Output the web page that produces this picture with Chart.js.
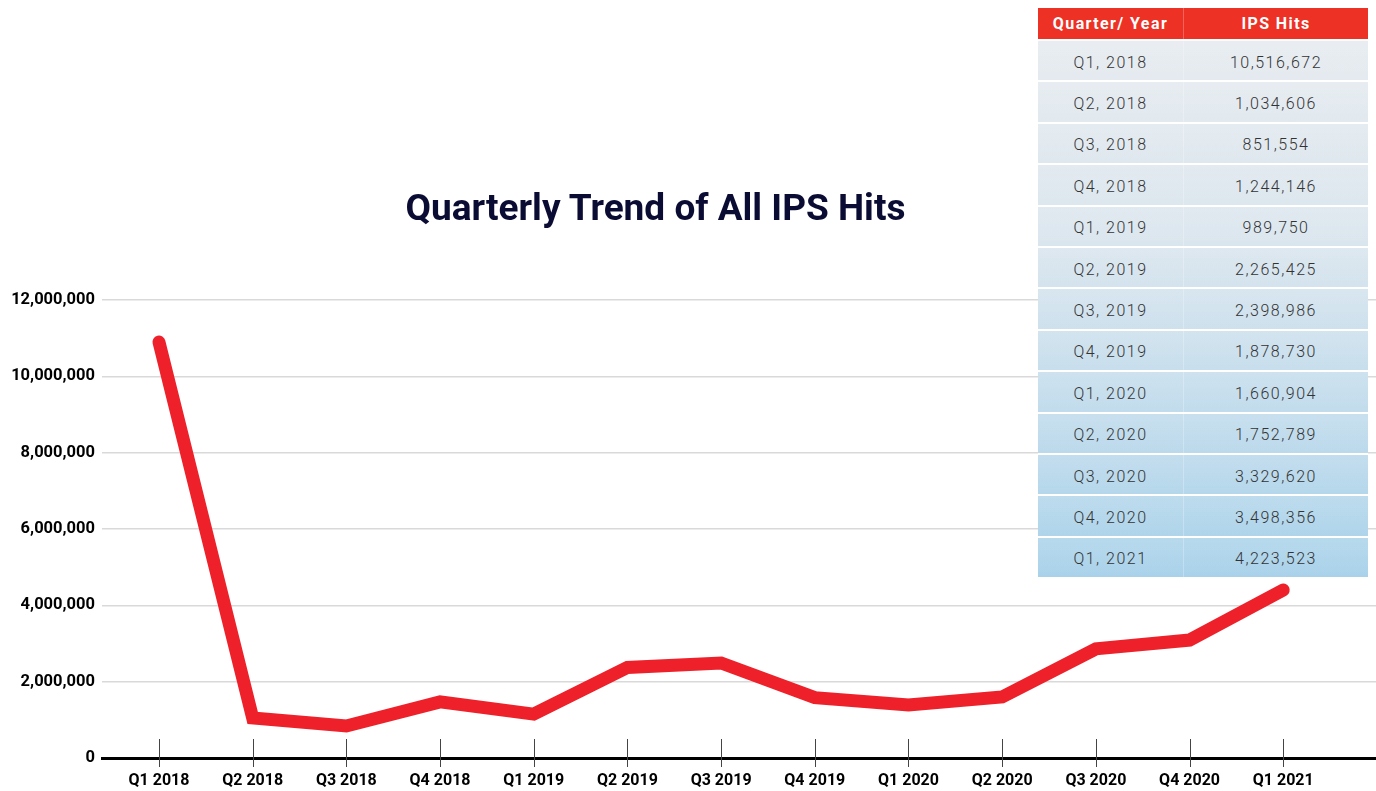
<!DOCTYPE html>
<html lang="en">
<head>
    <meta charset="UTF-8">
    <title>Quarterly Trend of All IPS Hits</title>
    <script src="https://cdn.jsdelivr.net/npm/chart.js"></script>
    <style>
        body { margin: 0; background: #fff; font-family: Roboto, Arial, sans-serif; }
        #wrap { position: relative; width: 1376px; height: 791px; overflow: hidden; }
        #trendChart { position: absolute; left: 0; top: 0; }
        .chart-title {
            position: absolute; left: 0; top: 189px; width: 1311px;
            text-align: center; font-size: 37px; line-height: 37px; font-weight: 700;
            color: #0b0c33;
        }
        .hits-table {
            position: absolute; left: 1038px; top: 8px; width: 330px;
            background: linear-gradient(#e8ecf0, #dbe6ee 40%, #a9d2ea);
        }
        .hits-table .head {
            display: flex; height: 31px; background: #ee3125; color: #fff;
            font-weight: 700; font-size: 16px; letter-spacing: 1.4px;
        }
        .hits-table .row {
            display: flex; height: 39.4px; border-top: 2px solid #fff;
            color: #333; font-size: 16px; font-weight: 300; letter-spacing: 1.5px;
            background: linear-gradient(rgba(255,255,255,0.12), rgba(255,255,255,0));
        }
        .hits-table .row:first-of-type { border-top: 1px solid #fff; }
        .hits-table .c1, .hits-table .c2 { display: flex; align-items: center; justify-content: center; }
        .hits-table .row .c1, .hits-table .row .c2 { padding-top: 3px; }
        .hits-table .c1 { width: 145px; border-right: 1px solid rgba(255,255,255,0.25); }
        .hits-table .c2 { width: 184px; }
    </style>
</head>
<body>
<div id="wrap">
    <canvas id="trendChart" width="1376" height="791"></canvas>
    <div class="chart-title">Quarterly Trend of All IPS Hits</div>
    <div class="hits-table" id="hitsTable"></div>
</div>

<script>
// x axis quarters
const quarters = ['Q1 2018', 'Q2 2018', 'Q3 2018', 'Q4 2018', 'Q1 2019', 'Q2 2019', 'Q3 2019',
                  'Q4 2019', 'Q1 2020', 'Q2 2020', 'Q3 2020', 'Q4 2020', 'Q1 2021'];
// line values
const ipsHits = [10900000, 1050000, 840000, 1470000, 1150000, 2370000, 2490000,
                 1580000, 1390000, 1600000, 2860000, 3090000, 4400000];
const yTicks = [0, 2000000, 4000000, 6000000, 8000000, 10000000, 12000000];

// side table
const tableHeader = ['Quarter/ Year', 'IPS Hits'];
const tableQuarters = ['Q1, 2018', 'Q2, 2018', 'Q3, 2018', 'Q4, 2018', 'Q1, 2019', 'Q2, 2019', 'Q3, 2019',
                       'Q4, 2019', 'Q1, 2020', 'Q2, 2020', 'Q3, 2020', 'Q4, 2020', 'Q1, 2021'];
const tableHits = ['10,516,672', '1,034,606', '851,554', '1,244,146', '989,750', '2,265,425', '2,398,986',
                   '1,878,730', '1,660,904', '1,752,789', '3,329,620', '3,498,356', '4,223,523'];

// build table
let tbl = document.getElementById('hitsTable');
let html = '<div class="head"><div class="c1">' + tableHeader[0] + '</div><div class="c2">' + tableHeader[1] + '</div></div>';
for (let i = 0; i < tableQuarters.length; i++) {
    html += '<div class="row"><div class="c1">' + tableQuarters[i] + '</div><div class="c2">' + tableHits[i] + '</div></div>';
}
tbl.innerHTML = html;

// tick marks crossing the x axis
const crossTicks = {
    id: 'crossTicks',
    afterDraw(chart) {
        const xs = chart.scales.x;
        const bottom = chart.chartArea.bottom;
        const ctx = chart.ctx;
        ctx.save();
        ctx.strokeStyle = '#444';
        ctx.lineWidth = 1;
        xs.ticks.forEach(t => {
            let px = Math.round(xs.getPixelForValue(t.value)) + 0.5;
            ctx.beginPath();
            ctx.moveTo(px, bottom - 19);
            ctx.lineTo(px, bottom + 9);
            ctx.stroke();
        });
        ctx.restore();
    }
};

Chart.defaults.font.family = 'Roboto, Arial, sans-serif';
Chart.defaults.color = '#000';

const ctx = document.getElementById('trendChart').getContext('2d');
new Chart(ctx, {
    type: 'line',
    data: {
        datasets: [{
            label: 'IPS Hits',
            data: ipsHits.map((v, i) => ({ x: i, y: v })),
            borderColor: '#ee2029',
            borderWidth: 13,
            borderCapStyle: 'round',
            borderJoinStyle: 'miter',
            pointRadius: 0,
            tension: 0,
            fill: false
        }]
    },
    plugins: [crossTicks],
    options: {
        responsive: false,
        animation: false,
        layout: { padding: { top: 300, right: 0, bottom: 0, left: 0 } },
        plugins: {
            legend: { display: false },
            tooltip: { enabled: false }
        },
        scales: {
            x: {
                type: 'linear',
                min: -0.608,
                max: 12.99,
                afterBuildTicks: s => { s.ticks = quarters.map((q, i) => ({ value: i })); },
                afterFit: s => { s.height = 33; },
                grid: { display: false },
                border: { display: true, color: '#000', width: 3 },
                ticks: {
                    autoSkip: false,
                    maxRotation: 0,
                    padding: 5,
                    font: { size: 16, weight: 'bold' },
                    callback: v => quarters[v]
                }
            },
            y: {
                min: 0,
                max: 12000000,
                afterBuildTicks: s => { s.ticks = yTicks.map(v => ({ value: v })); },
                afterFit: s => { s.width = 102; },
                grid: { color: '#d9d9d9', lineWidth: 1.5, drawTicks: false },
                border: { display: false },
                ticks: {
                    padding: 7,
                    font: { size: 16.5, weight: 'bold' },
                    callback: v => v.toLocaleString('en-US')
                }
            }
        }
    }
});
</script>
</body>
</html>
